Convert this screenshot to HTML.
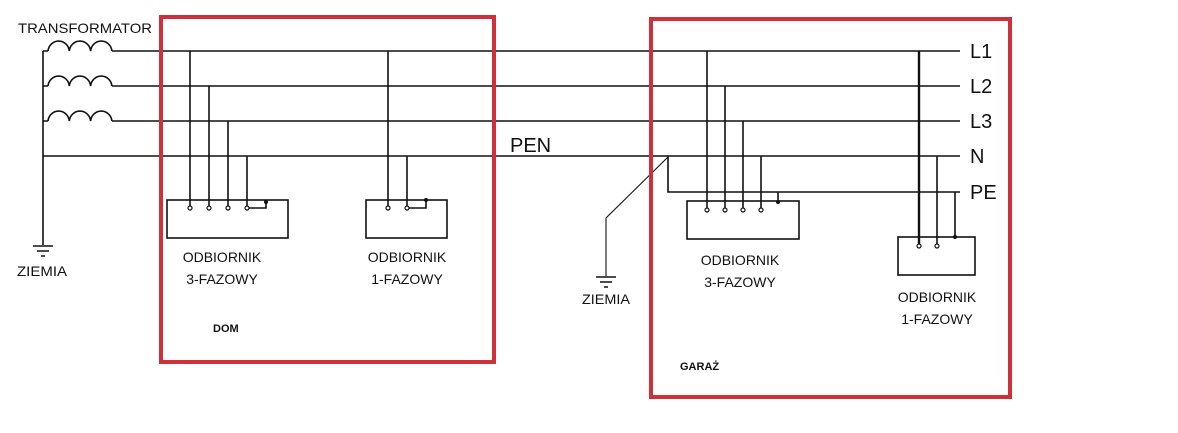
<!DOCTYPE html>
<html><head><meta charset="utf-8"><style>
html,body{margin:0;padding:0;background:#fff;}
svg{display:block;}
text{font-family:"Liberation Sans",sans-serif;fill:#111;}
</style></head><body>
<svg width="1178" height="433" viewBox="0 0 1178 433" xmlns="http://www.w3.org/2000/svg">
<g stroke="#111" stroke-width="1.6" fill="none">
<!-- coils -->
<path d="M48 51 a10.7 11 0 0 1 21.3 0 a10.7 11 0 0 1 21.3 0 a10.7 11 0 0 1 21.3 0"/>
<path d="M48 86 a10.7 11 0 0 1 21.3 0 a10.7 11 0 0 1 21.3 0 a10.7 11 0 0 1 21.3 0"/>
<path d="M48 121 a10.7 11 0 0 1 21.3 0 a10.7 11 0 0 1 21.3 0 a10.7 11 0 0 1 21.3 0"/>
<path d="M43 51 H48 M43 86 H48 M43 121 H48"/>
<path d="M43 51 V245"/>
<!-- main lines -->
<path d="M112 51 H960 M112 86 H960 M112 121 H960 M43 156 H960"/>
<path d="M668 156 V192 H960"/>
<!-- ground left -->
<path d="M33 246 H53 M37 251 H49 M41 256 H45"/>
<!-- ground right -->
<path d="M668 157 L606 218 V276" stroke-width="1.1"/>
<path d="M596 277 H616 M600 282 H612 M604 287 H608"/>
<!-- house 3-phase -->
<rect x="167" y="200" width="121" height="38"/>
<path d="M190 51 V208 M209 86 V208 M228 121 V208 M247 156 V208 H266 V202"/>
<!-- house 1-phase -->
<rect x="366" y="200" width="81" height="38"/>
<path d="M388 51 V208 M407 156 V208 H426 V200"/>
<!-- garage 3-phase -->
<rect x="687" y="201" width="112" height="38"/>
<path d="M707 51 V210 M725 86 V210 M743 121 V210 M761 156 V210 M778 192 V202"/>
<!-- garage 1-phase -->
<rect x="898" y="237" width="77" height="38"/>
<path d="M919 51 V246" stroke-width="2.4"/>
<path d="M937 156 V246 M955 192 V237"/>
</g>
<g fill="#fff" stroke="#111" stroke-width="1.2">
<circle cx="190" cy="208" r="2"/><circle cx="209" cy="208" r="2"/><circle cx="228" cy="208" r="2"/><circle cx="247" cy="208" r="2"/>
<circle cx="388" cy="208" r="2"/><circle cx="407" cy="208" r="2"/>
<circle cx="707" cy="210" r="2"/><circle cx="725" cy="210" r="2"/><circle cx="743" cy="210" r="2"/><circle cx="761" cy="210" r="2"/>
<circle cx="919" cy="246" r="2"/><circle cx="937" cy="246" r="2"/>
</g>
<g fill="#111">
<circle cx="266" cy="202" r="2"/><circle cx="426" cy="200" r="2"/><circle cx="778" cy="202" r="2"/><circle cx="955" cy="237" r="2"/>
</g>
<!-- red boxes -->
<rect x="161" y="17" width="333" height="345" fill="none" stroke="#d0303a" stroke-width="4"/>
<rect x="651" y="19" width="359" height="378" fill="none" stroke="#d0303a" stroke-width="4"/>
<!-- text -->
<text x="18" y="33" font-size="14" textLength="134" lengthAdjust="spacingAndGlyphs">TRANSFORMATOR</text>
<text x="17" y="276" font-size="14" textLength="50" lengthAdjust="spacingAndGlyphs">ZIEMIA</text>
<text x="582" y="304" font-size="14" textLength="48" lengthAdjust="spacingAndGlyphs">ZIEMIA</text>
<text x="510" y="152" font-size="20">PEN</text>
<g font-size="20">
<text x="970" y="58">L1</text>
<text x="970" y="93">L2</text>
<text x="970" y="128">L3</text>
<text x="970" y="163">N</text>
<text x="970" y="199">PE</text>
</g>
<g font-size="14" text-anchor="middle">
<text x="222" y="262">ODBIORNIK</text><text x="222" y="284">3-FAZOWY</text>
<text x="407" y="262">ODBIORNIK</text><text x="407" y="284">1-FAZOWY</text>
<text x="740" y="265">ODBIORNIK</text><text x="740" y="287">3-FAZOWY</text>
<text x="937" y="302">ODBIORNIK</text><text x="937" y="324">1-FAZOWY</text>
</g>
<text x="213" y="332" font-size="11" font-weight="bold">DOM</text>
<text x="680" y="370" font-size="11" font-weight="bold">GARAŻ</text>
</svg>
</body></html>
